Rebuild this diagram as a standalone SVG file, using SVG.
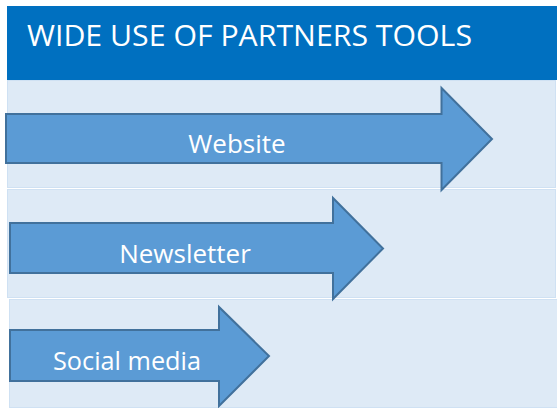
<svg xmlns="http://www.w3.org/2000/svg" width="557" height="408" viewBox="0 0 557 408">
  <style>
    .panel { fill: #DEEAF6; stroke: #CFE1F3; stroke-width: 1; }
    .arrow { fill: #5B9BD5; stroke: #41719C; stroke-width: 2; stroke-linejoin: miter; }
    .label { font-family: "Open Sans", "Liberation Sans", sans-serif; font-size: 26px; fill: #FFFFFF; text-anchor: middle; }
    .title { font-family: "Open Sans", "Liberation Sans", sans-serif; font-size: 30px; fill: #FFFFFF; }
  </style>
  <rect x="0" y="0" width="557" height="408" fill="#FFFFFF"/>
  <g id="header">
    <rect x="7" y="6" width="550" height="74" fill="#0070C0"/>
    <text class="title" x="27" y="46" textLength="445" lengthAdjust="spacingAndGlyphs">WIDE USE OF PARTNERS TOOLS</text>
  </g>
  <g id="panels">
    <rect class="panel" x="7.5" y="80.5" width="548" height="107"/>
    <rect class="panel" x="7.5" y="189.5" width="548" height="108"/>
    <rect class="panel" x="9.5" y="299.5" width="548" height="108"/>
  </g>
  <g id="connectors"></g>
  <g id="website">
    <polygon class="arrow" points="6,114 441.5,114 441.5,88 492,139 441.5,190 441.5,163 6,163"/>
    <text class="label" x="237" y="153">Website</text>
  </g>
  <g id="newsletter">
    <polygon class="arrow" points="10,223 333,223 333,198 383,248.5 333,299 333,273 10,273"/>
    <text class="label" x="185" y="262.5">Newsletter</text>
  </g>
  <g id="social-media">
    <polygon class="arrow" points="10,330 219,330 219,307 269,356 219,406 219,381 10,381"/>
    <text class="label" x="127" y="370" textLength="148" lengthAdjust="spacingAndGlyphs">Social media</text>
  </g>
</svg>
